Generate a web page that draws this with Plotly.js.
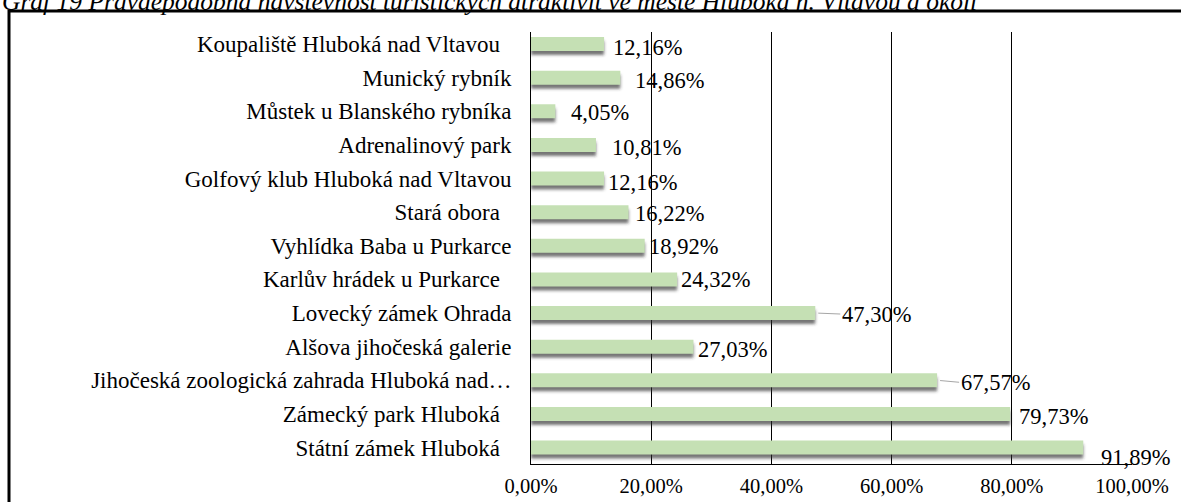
<!DOCTYPE html>
<html>
<head>
<meta charset="utf-8">
<script src="https://cdn.plot.ly/plotly-3.0.1.min.js"></script>
<style>
  html, body { margin: 0; padding: 0; background: #fff; }
  #chart { width: 1181px; height: 502px; }
</style>
</head>
<body>
<div id="chart"></div>
<script>
// ---- data (top to bottom as displayed) ----
const categories = [
  "Koupaliště Hluboká nad Vltavou\u00a0\u00a0",
  "Munický rybník",
  "Můstek u Blanského rybníka",
  "Adrenalinový park",
  "Golfový klub Hluboká nad Vltavou",
  "Stará obora\u00a0\u00a0",
  "Vyhlídka Baba u Purkarce",
  "Karlův hrádek u Purkarce\u00a0\u00a0",
  "Lovecký zámek Ohrada",
  "Alšova jihočeská galerie",
  "Jihočeská zoologická zahrada Hluboká nad…",
  "Zámecký park Hluboká\u00a0\u00a0",
  "Státní zámek Hluboká\u00a0\u00a0"
];
const values = [12.16, 14.86, 4.05, 10.81, 12.16, 16.22, 18.92, 24.32, 47.30, 27.03, 67.57, 79.73, 91.89];
const valueLabels = ["12,16%", "14,86%", "4,05%", "10,81%", "12,16%", "16,22%", "18,92%", "24,32%", "47,30%", "27,03%", "67,57%", "79,73%", "91,89%"];
const tickValues = [0, 20, 40, 60, 80, 100];
const tickLabels = ["0,00%", "20,00%", "40,00%", "60,00%", "80,00%", "100,00%"];
const titleText = "Graf 19 Pravděpodobná návštěvnost turistických atraktivit ve městě Hluboká n. Vltavou a okolí";

// ---- label placement (style: pixel nudges, like the original data labels) ----
const labelDx = [7, 13, 14, 14, 2, 5, 2, 2, 25, 3, 22, 7, 16];
const labelDy = [-3.5, -3, -1.5, -2.6, -3.5, -1, -1, -0.6, -1, -2.4, -2, -3, -9.5];
const leader = [false, false, false, false, false, false, false, false, true, false, true, false, false];

const FONT = "'Liberation Serif', 'Times New Roman', serif";
const BAR_W = 0.416;

const shadow = {
  type: 'bar', orientation: 'h',
  y: categories, x: values,
  width: BAR_W, offset: -BAR_W / 2 + 0.12,
  marker: { color: 'rgba(40,40,40,0.65)', line: { width: 0 } },
  hoverinfo: 'skip', showlegend: false
};
const bars = {
  type: 'bar', orientation: 'h',
  y: categories, x: values,
  width: BAR_W, offset: -BAR_W / 2,
  marker: { color: '#c5e0b4', line: { width: 0 } },
  hoverinfo: 'x+y', showlegend: false
};

const annotations = values.map((v, i) => {
  if (leader[i]) {
    return {
      x: v, y: categories[i], xref: 'x', yref: 'y',
      text: valueLabels[i], showarrow: true, arrowhead: 0, arrowwidth: 1,
      arrowcolor: '#a6a6a6', ax: labelDx[i], ay: -labelDy[i], standoff: 3,
      xanchor: 'left', yanchor: 'middle',
      font: { family: FONT, size: 22.5, color: '#000' }
    };
  }
  return {
    x: v, y: categories[i], xref: 'x', yref: 'y',
    text: valueLabels[i], showarrow: false,
    xanchor: 'left', yanchor: 'middle',
    xshift: labelDx[i], yshift: labelDy[i],
    font: { family: FONT, size: 22.5, color: '#000' }
  };
});

// frame (pixel positions converted to paper units: plot 531..1132 x, 32..464 y)
const PL = 531, PR = 1132, PT = 32, PB = 464;
const px = X => (X - PL) / (PR - PL);
const py = Y => (PB - Y) / (PB - PT);

const layout = {
  width: 1181, height: 502,
  margin: { l: PL, r: 1181 - PR, t: PT, b: 502 - PB, pad: 0 },
  paper_bgcolor: '#fff', plot_bgcolor: 'rgba(0,0,0,0)',
  barmode: 'overlay',
  font: { family: FONT, size: 21, color: '#000' },
  title: {
    text: '<i>' + titleText + '</i>',
    font: { family: FONT, size: 25.5, color: '#000' },
    x: 2 / 1181, xanchor: 'left', xref: 'container',
    y: 1 - 10 / 502, yanchor: 'bottom', yref: 'container', pad: { t: 0, b: 0, l: 0, r: 0 }
  },
  xaxis: {
    range: [0, 100], fixedrange: true,
    tickvals: tickValues, ticktext: tickLabels,
    showgrid: true, gridcolor: '#000', gridwidth: 1,
    showline: true, linecolor: '#000', linewidth: 1,
    zeroline: false, ticks: '', ticklabelstandoff: 3,
    tickfont: { family: FONT, size: 20.5, color: '#000' }
  },
  yaxis: {
    type: 'category', categoryorder: 'array', categoryarray: categories,
    range: [12.49, -0.357], fixedrange: true,
    showgrid: false, showline: true, linecolor: '#000', linewidth: 1,
    zeroline: false, ticks: '', ticklabelstandoff: 14,
    tickfont: { family: FONT, size: 23, color: '#000' }
  },
  annotations: annotations,
  shapes: [{
    type: 'rect', xref: 'paper', yref: 'paper', layer: 'above',
    x0: px(9), x1: px(1195), y0: py(11), y1: py(520),
    line: { color: '#000', width: 3 }, fillcolor: 'rgba(0,0,0,0)'
  }]
};

const gd = document.getElementById('chart');
Plotly.newPlot(gd, [shadow, bars], layout, { displayModeBar: false, staticPlot: true }).then(() => {
  const svg = gd.querySelector('svg.main-svg');
  const ns = 'http://www.w3.org/2000/svg';
  let defs = svg.querySelector('defs');
  if (!defs) { defs = document.createElementNS(ns, 'defs'); svg.insertBefore(defs, svg.firstChild); }
  const f = document.createElementNS(ns, 'filter');
  f.setAttribute('id', 'barShadowBlur');
  f.setAttribute('x', '-10%'); f.setAttribute('y', '-50%');
  f.setAttribute('width', '120%'); f.setAttribute('height', '200%');
  const b = document.createElementNS(ns, 'feGaussianBlur');
  b.setAttribute('stdDeviation', '1.6');
  f.appendChild(b); defs.appendChild(f);
  const tr = gd.querySelectorAll('.barlayer .trace');
  if (tr.length) tr[0].setAttribute('filter', 'url(#barShadowBlur)');
});
</script>
</body>
</html>
